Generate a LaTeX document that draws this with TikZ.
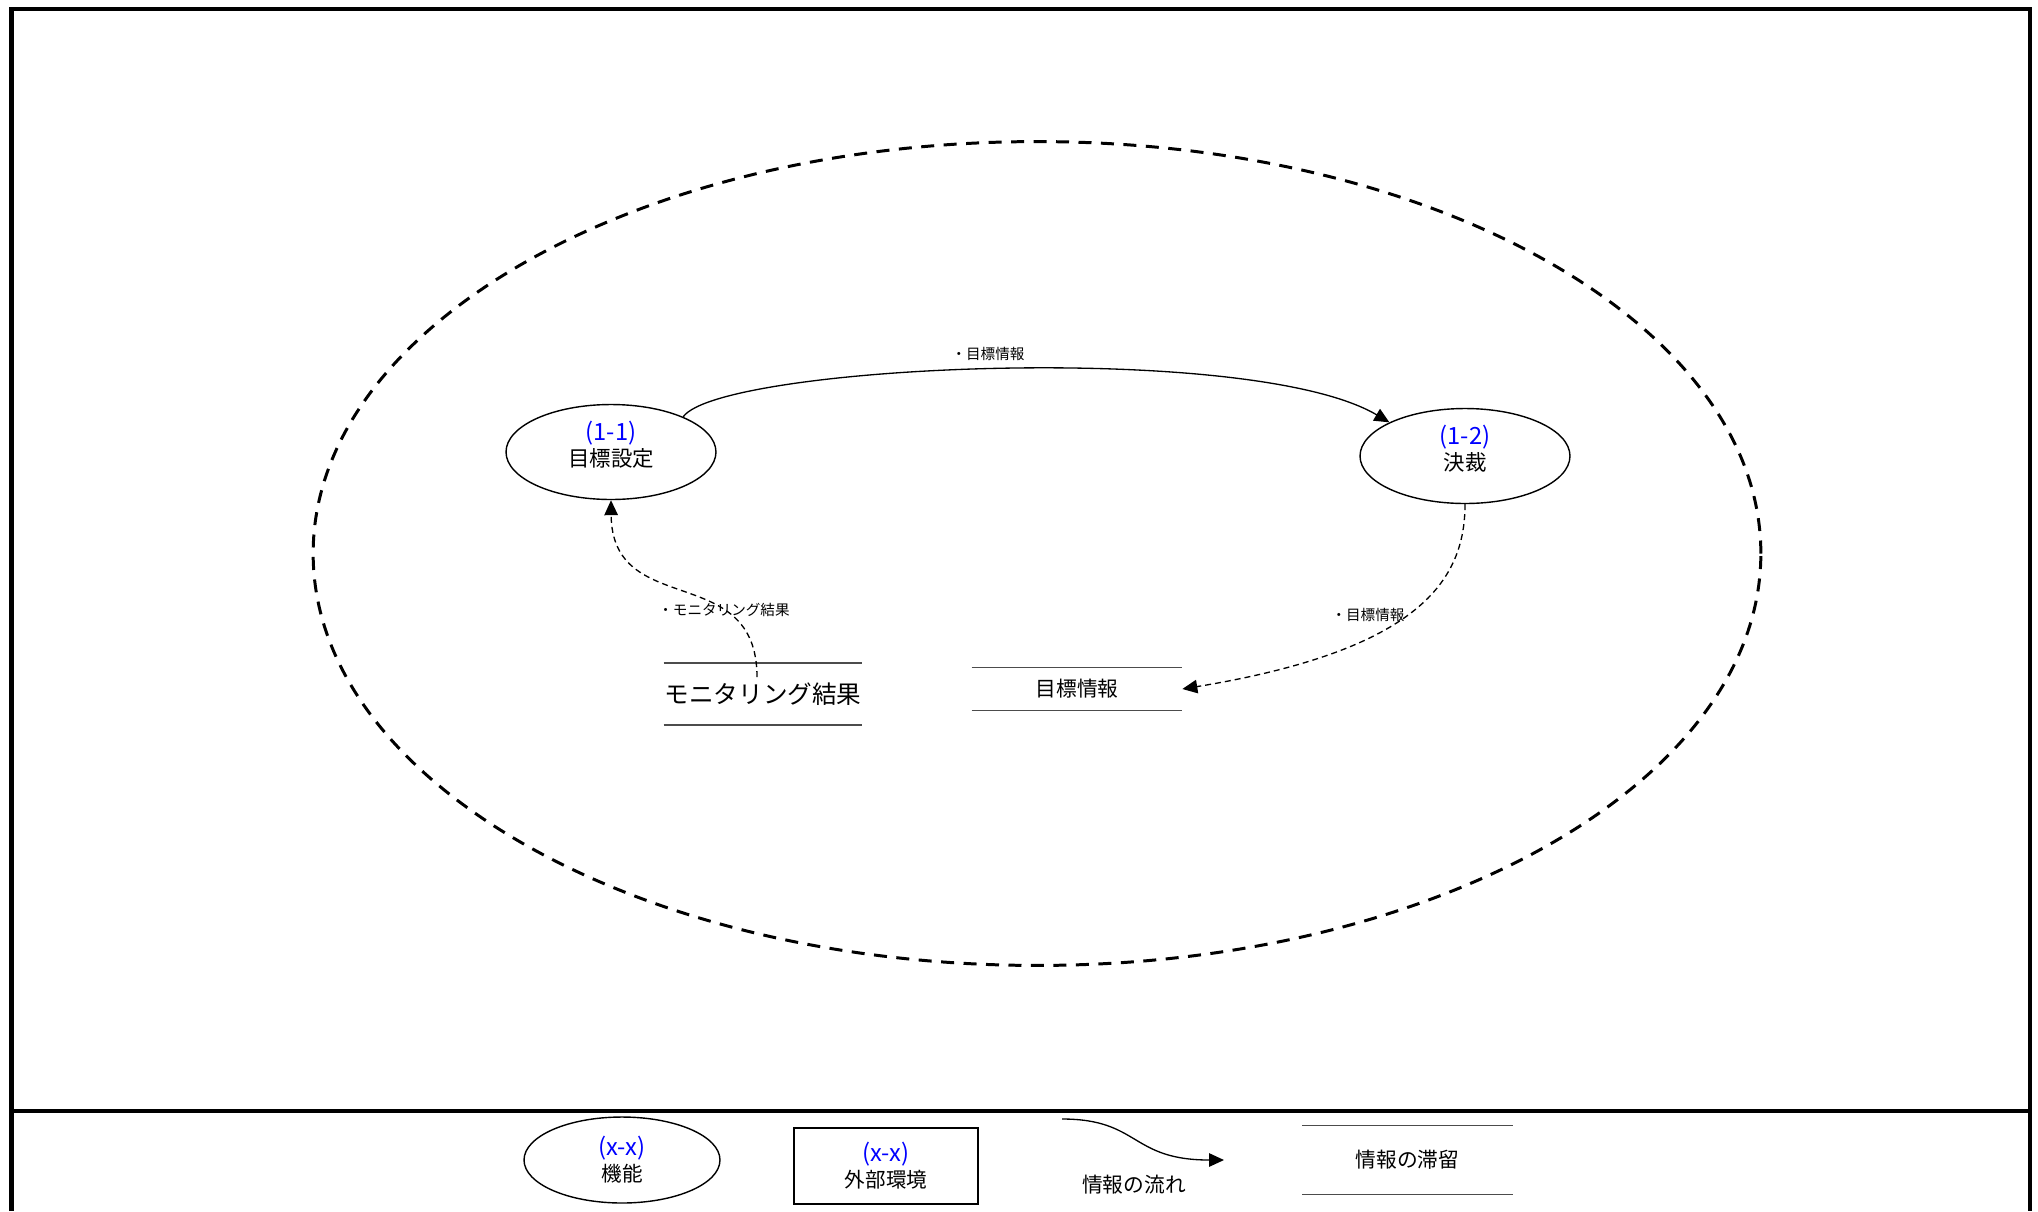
\documentclass[tikz,border=0pt]{standalone}
\usepackage{fontspec}
\setmainfont{Noto Sans CJK JP}
\usetikzlibrary{shapes,arrows,arrows.meta}
\tikzset{
	func/.style     = {draw, ellipse, line width=0.8pt, inner sep=0pt,
		minimum width=4.2cm, minimum height=1.9cm, align=center,
		font=\fontsize{12.2}{15}\selectfont},
	env/.style      = {draw, rectangle, line width=0.8pt, inner sep=0pt,
		minimum width=3.68cm, minimum height=1.52cm, align=center,
		font=\fontsize{11.7}{14.8}\selectfont},
	store/.style    = {inner sep=0pt, minimum width=4.2cm, align=center,
		font=\fontsize{11.8}{14.8}\selectfont},
	storeline/.style = {line width=0.8pt, draw=black!70},
	lbl/.style      = {inner sep=0pt, font=\fontsize{8.3}{10}\selectfont},
	flow/.style     = {->, line width=0.75pt},
	flowd/.style    = {flow, dash pattern=on 3.4pt off 2.3pt},
	boundary/.style = {line width=1.7pt, dash pattern=on 7.4pt off 5.4pt},
	frame/.style    = {line width=2.3pt}
}
\newcommand{\fid}[1]{\textcolor{blue}{\fontsize{13.5}{15}\selectfont #1}}

\begin{document}
\begin{tikzpicture}[x=0.02cm, y=-0.02cm, >={Triangle[length=0.3cm, width=0.27cm]}]
	\useasboundingbox (0,0) rectangle (2038,1211);
	% outer frame and legend separator
	\draw[frame] (11.5,1211) -- (11.5,9) -- (2029.5,9) -- (2029.5,1211);
	\draw[frame] (11.5,1111) -- (2029.5,1111);
	% system boundary
	\draw[boundary] (1037,553.5) ellipse [x radius=14.48cm, y radius=8.24cm];
	
	\draw
	% functions
	node at (611,452) [func, text depth=9.5pt] (n11) {\fid{(1-1)}\\目標設定}
	node at (1465,456) [func, text depth=9.5pt] (n12) {\fid{(1-2)}\\決裁}
	% information stores
	node at (763,694) [store, minimum width=3.96cm, minimum height=1.22cm,
		font=\fontsize{14}{16}\selectfont] (ms) {モニタリング結果}
	node at (1077,689) [store, minimum height=0.84cm] (ti) {目標情報}
	;
	\draw[storeline] (ms.north west) -- (ms.north east) (ms.south west) -- (ms.south east);
	\draw[storeline] (ti.north west) -- (ti.north east) (ti.south west) -- (ti.south east);
	\coordinate (msout) at (757,677);
	
	\draw[flow] (n11.26) .. controls (720,365) and (1250,340) .. (n12.156);
	\draw[flowd] (msout) .. controls (757,560) and (612,620) .. (n11.south);
	\draw[flowd] (n12.south) .. controls (1465,580) and (1420,650) .. (ti.east);
	
	\draw
	node at (988,354) [lbl] (l1) {・目標情報}
	node at (724,610) [lbl] (l2) {・モニタリング結果}
	node at (1368,615) [lbl] (l3) {・目標情報};
	
	% legend
	\draw
	node at (622,1160) [func, minimum width=3.92cm, minimum height=1.72cm,
		font=\fontsize{11.7}{14.8}\selectfont] (lgf) {\fid{(x-x)}\\機能}
	node at (886,1166) [env] (lge) {\fid{(x-x)}\\外部環境}
	node at (1407.5,1160) [store, minimum height=1.36cm] (lgs) {情報の滞留}
	node at (1134,1185) [store, minimum width=0cm] (lgl) {情報の流れ};
	\draw[storeline] (lgs.north west) -- (lgs.north east) (lgs.south west) -- (lgs.south east);
	\coordinate (lgfrom) at (1062,1119);
	\coordinate (lgto) at (1224,1160);
	\draw[flow] (lgfrom) .. controls (1140,1119) and (1130,1160) .. (lgto);
\end{tikzpicture}
\end{document}
